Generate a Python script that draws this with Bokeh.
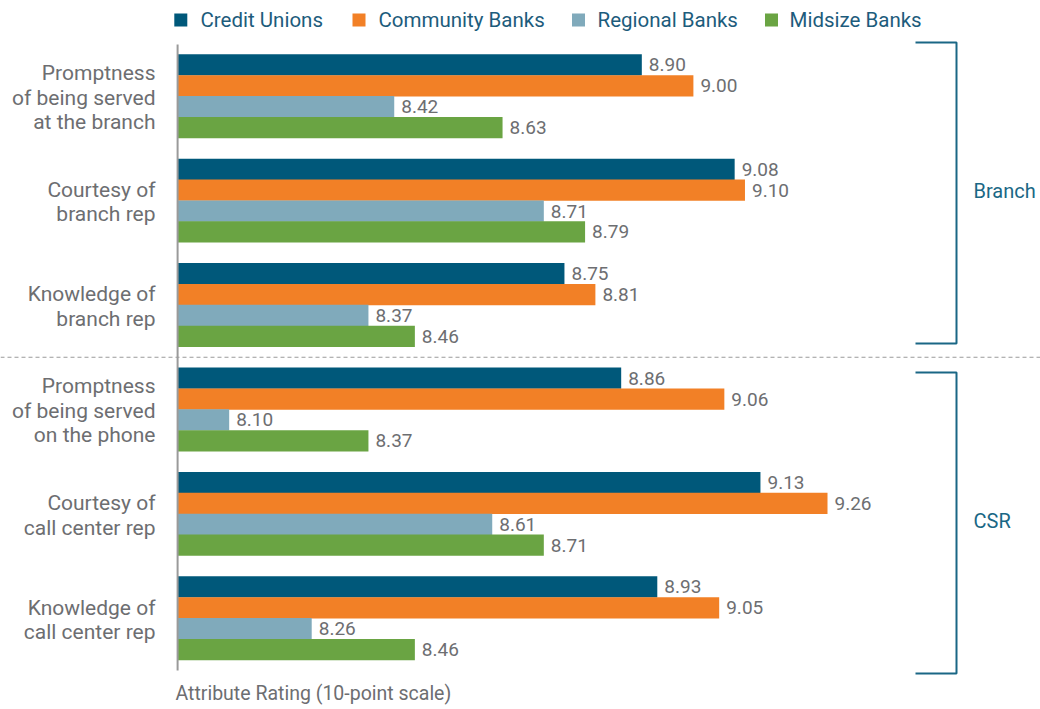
from bokeh.plotting import figure
from bokeh.models import Range1d
from bokeh.core.properties import value
from bokeh.embed import file_html
from bokeh.resources import INLINE

# ---------------- data ----------------
categories = [
    "Promptness\nof being served\nat the branch",
    "Courtesy of\nbranch rep",
    "Knowledge of\nbranch rep",
    "Promptness\nof being served\non the phone",
    "Courtesy of\ncall center rep",
    "Knowledge of\ncall center rep",
]
series_names = ["Credit Unions", "Community Banks", "Regional Banks", "Midsize Banks"]
credit_unions = [8.90, 9.08, 8.75, 8.86, 9.13, 8.93]
community_banks = [9.00, 9.10, 8.81, 9.06, 9.26, 9.05]
regional_banks = [8.42, 8.71, 8.37, 8.10, 8.61, 8.26]
midsize_banks = [8.63, 8.79, 8.46, 8.37, 8.71, 8.46]
section_names = ["Branch", "CSR"]
axis_title = "Attribute Rating (10-point scale)"

# ---------------- style / layout ----------------
colors = ["#00587a", "#f28026", "#80aabb", "#6aa443"]
FONT = value("Roboto")
GRAY = "#6d6e71"
BLUE = "#1a6785"
W, H = 1040, 709
BASE = 8.0          # value where bars start
X_PX0 = 177.1       # pixel of BASE
PPU = 515.8         # pixels per rating unit
TOP = 54.0
SLOT = 20.88


def px2x(px):
    return BASE + (px - X_PX0) / PPU


p = figure(width=W, height=H, output_backend="svg", toolbar_location=None,
           x_range=Range1d(px2x(0), px2x(W)), y_range=Range1d(H, 0),
           min_border=0, min_border_left=0, min_border_right=0,
           min_border_top=0, min_border_bottom=0)
p.axis.visible = False
p.grid.visible = False
p.outline_line_color = None
p.background_fill_color = "white"
p.border_fill_color = "white"

all_series = [credit_unions, community_banks, regional_banks, midsize_banks]
n_groups = len(categories)

for s, (vals, col) in enumerate(zip(all_series, colors)):
    ys = [TOP + SLOT * (g * 5 + s + 0.5) for g in range(n_groups)]
    p.hbar(y=ys, left=BASE, right=vals, height=SLOT + 0.4, fill_color=col,
           line_color=None)
    p.text(x=vals, y=ys, text=[f"{v:.2f}" for v in vals], x_offset=7,
           text_baseline="middle", text_align="left", text_font=FONT,
           text_font_size="19px", text_color=GRAY)

# category labels
cy = [TOP + SLOT * (g * 5 + 2) + 1.5 for g in range(n_groups)]
p.text(x=[px2x(155)] * n_groups, y=cy, text=categories, text_align="right",
       text_baseline="middle", text_font=FONT, text_font_size="21px",
       text_color=GRAY, text_line_height=1.02)

# value axis line
p.segment(x0=[BASE], x1=[BASE], y0=[44], y1=[670], line_color="#9a9a9a",
          line_width=2)

# separator
sep_y = TOP + SLOT * (15 - 0.5)
p.segment(x0=[px2x(0)], x1=[px2x(W)], y0=[sep_y], y1=[sep_y],
          line_color="#9a9a9a", line_width=1, line_dash="4 3")

# brackets
br_top = [42, 372]
br_bot = [343, 673]
bx0, bx1 = px2x(915), px2x(956)
for t, b, name in zip(br_top, br_bot, section_names):
    p.line(x=[bx0, bx1, bx1, bx0], y=[t, t, b, b], line_color=BLUE,
           line_width=2)
    p.text(x=[px2x(973)], y=[(t + b) / 2 - 2], text=[name], text_baseline="middle",
           text_align="left", text_font=FONT, text_font_size="20px",
           text_color=BLUE)

# axis title
p.text(x=[px2x(175)], y=[693], text=[axis_title], text_baseline="middle",
       text_align="left", text_font=FONT, text_font_size="19.5px",
       text_color=GRAY)

# legend
sq_px = [180.3, 358.5, 578.0, 771.0]
tx_px = [200, 378, 597, 789]
p.scatter(x=[px2x(v) for v in sq_px], y=[19.5] * 4, marker="square", size=13,
          fill_color=colors, line_color=None)
p.text(x=[px2x(v) for v in tx_px], y=[19.5] * 4, text=series_names,
       text_baseline="middle", text_align="left", text_font=FONT,
       text_font_size="20.5px", text_color="#1d5c7c")

open("out.html", "w").write(file_html(p, INLINE))
